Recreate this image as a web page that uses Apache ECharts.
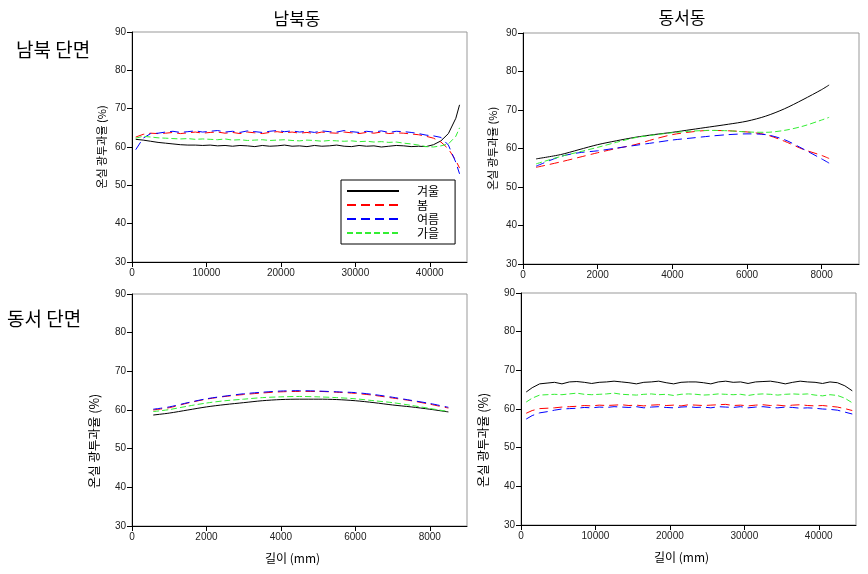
<!DOCTYPE html>
<html><head><meta charset="utf-8">
<script src="https://cdn.jsdelivr.net/npm/echarts@6/dist/echarts.min.js"></script>
<style>html,body{margin:0;padding:0;background:#fff}#c{width:868px;height:574px}</style>
</head><body><div id="c"></div>
<script>
// ---- Data ----
const seasons = ['겨울', '봄', '여름', '가을'];
const yTicks = [30, 40, 50, 60, 70, 80, 90];

// Panel A: 남북 단면 / 남북동
const A_x = [500,1500,2500,3500,4500,5500,6500,7500,8500,9500,10500,11500,12500,13500,14500,15500,16500,17500,18500,19500,20500,21500,22500,23500,24500,25500,26500,27500,28500,29500,30500,31500,32500,33500,34500,35500,36500,37500,38500,39500,40500,41500,42500,43500,44000];
const A_winter = [62.0,61.8,61.5,61.2,61.0,60.8,60.6,60.5,60.5,60.4,60.5,60.3,60.4,60.2,60.4,60.3,60.1,60.4,60.2,60.3,60.5,60.2,60.3,60.1,60.4,60.2,60.3,60.5,60.2,60.1,60.4,60.2,60.3,60.0,60.2,60.4,60.3,60.1,60.2,60.1,60.6,61.6,63.5,67.5,71.0];
const A_spring = [62.6,63.3,63.6,63.5,63.6,63.8,63.5,63.7,63.9,63.6,63.8,63.9,63.6,63.8,63.5,63.9,63.7,63.5,63.8,64.0,63.7,63.9,63.6,63.8,63.5,63.9,63.7,63.6,63.9,63.7,63.5,63.8,63.6,63.9,63.5,63.7,63.6,63.4,63.2,62.8,62.3,61.3,59.5,56.5,54.5];
const A_summer = [59.3,62.3,63.5,63.6,63.9,64.1,63.8,64.0,64.2,63.9,64.1,64.3,63.9,64.1,63.8,64.2,64.0,63.8,64.1,64.3,64.0,64.2,63.9,64.1,63.8,64.2,64.0,63.9,64.3,64.0,63.8,64.1,63.9,64.2,63.8,64.1,64.0,63.8,63.5,63.1,62.9,62.5,60.5,56.0,53.0];
const A_autumn = [62.3,62.8,62.6,62.4,62.3,62.2,62.1,62.2,62.0,62.1,62.0,61.9,62.1,61.8,61.9,61.7,61.8,61.9,61.7,61.8,61.9,61.7,61.6,61.8,61.7,61.5,61.7,61.6,61.5,61.6,61.4,61.5,61.3,61.4,61.2,61.3,61.0,60.8,60.5,60.1,60.0,60.3,60.8,62.8,65.0];

// Panel B: 남북 단면 / 동서동
const B_x = [350,1000,1500,2000,2500,3000,3500,4000,4500,5000,5500,6000,6500,7000,7500,8000,8200];
const B_winter = [57.3,58.4,59.7,61.0,62.0,62.9,63.6,64.2,64.9,65.6,66.3,67.1,68.4,70.3,72.7,75.3,76.5];
const B_spring = [55.1,56.5,57.7,58.9,60.0,61.0,62.4,63.6,64.3,64.7,64.6,64.3,63.6,61.9,59.8,58.2,57.4];
const B_summer = [55.4,57.9,58.9,59.4,60.1,60.8,61.5,62.2,62.7,63.2,63.6,63.8,63.6,62.3,59.9,57.3,56.2];
const B_autumn = [56.0,57.9,59.1,60.3,61.6,62.8,63.5,64.1,64.5,64.7,64.6,64.3,64.2,64.7,65.8,67.4,68.1];

// Panel C: 동서 단면 / 남북동
const C_x = [570,1000,1500,2000,2500,3000,3500,4000,4500,5000,5500,6000,6500,7000,7500,8000,8500];
const C_winter = [58.7,59.2,60.0,60.8,61.4,61.9,62.4,62.7,62.8,62.8,62.7,62.4,61.9,61.3,60.8,60.2,59.5];
const C_spring = [60.0,60.6,61.8,62.8,63.5,64.0,64.4,64.7,64.8,64.8,64.6,64.3,63.8,63.1,62.4,61.5,60.5];
const C_summer = [60.2,60.8,61.9,62.9,63.6,64.2,64.6,64.9,65.0,64.9,64.7,64.5,64.0,63.3,62.5,61.7,60.7];
const C_autumn = [59.6,60.1,61.0,61.8,62.4,62.8,63.2,63.4,63.5,63.4,63.2,62.9,62.4,61.9,61.2,60.4,59.6];

// Panel D: 동서 단면 / 동서동
const D_x = [700,1500,2500,3500,4500,5500,6500,7500,8500,9500,10500,11500,12500,13500,14500,15500,16500,17500,18500,19500,20500,21500,22500,23500,24500,25500,26500,27500,28500,29500,30500,31500,32500,33500,34500,35500,36500,37500,38500,39500,40500,41500,42500,43500,44500];
const D_winter = [64.4,65.5,66.5,66.7,66.9,66.5,67.0,67.1,66.9,66.6,66.9,67.0,67.2,67.0,66.8,66.5,66.9,67.0,67.2,66.8,66.5,66.9,67.0,67.0,66.8,66.5,67.0,67.2,66.9,67.0,66.6,67.0,67.1,67.2,66.9,66.5,66.9,67.2,67.0,66.9,66.6,67.0,66.8,66.0,64.7];
const D_spring = [58.9,59.6,60.1,60.2,60.3,60.5,60.6,60.7,60.9,60.8,61.0,60.9,61.0,61.1,60.9,61.0,60.8,61.0,61.1,60.9,61.0,60.8,61.1,61.0,60.9,61.0,61.1,61.2,60.9,61.0,60.8,61.0,61.1,60.9,61.0,60.8,61.0,61.1,60.9,60.8,60.9,60.7,60.5,60.1,59.6];
const D_summer = [57.4,58.3,59.0,59.3,59.7,60.0,60.1,60.2,60.4,60.3,60.5,60.4,60.6,60.5,60.4,60.6,60.3,60.5,60.6,60.4,60.3,60.5,60.6,60.4,60.5,60.3,60.6,60.5,60.4,60.6,60.3,60.5,60.6,60.4,60.3,60.5,60.4,60.2,60.3,60.2,60.0,59.9,59.7,59.2,58.7];
const D_autumn = [61.8,62.8,63.6,63.7,63.8,63.7,63.9,64.1,63.8,63.7,63.8,63.9,64.1,63.8,63.7,63.6,63.8,63.9,63.7,63.8,63.5,63.8,63.9,63.8,63.6,63.7,63.9,63.8,63.7,63.8,63.5,63.8,63.9,63.8,63.6,63.8,63.9,63.8,63.9,63.6,63.4,63.7,63.5,62.8,61.6];

const colTitles = ['남북동', '동서동'];
const rowTitles = ['남북 단면', '동서 단면'];
const yName = '온실 광투과율 (%)';
const xName = '길이 (mm)';

// ---- Chart ----
const NUM = 'Liberation Sans, Arial, sans-serif';
const KR = 'Noto Sans CJK KR, sans-serif';
const styles = [
  {color: '#000000', type: 'solid'},
  {color: '#ff0000', type: [9, 5]},
  {color: '#0000ff', type: [9, 5]},
  {color: '#33ee33', type: [6, 3]}
];
const panels = [
  {x: A_x, ys: [A_winter, A_spring, A_summer, A_autumn], max: 45000, interval: 10000, smooth: false},
  {x: B_x, ys: [B_winter, B_spring, B_summer, B_autumn], max: 9000, interval: 2000, smooth: true},
  {x: C_x, ys: [C_winter, C_spring, C_summer, C_autumn], max: 9000, interval: 2000, smooth: true},
  {x: D_x, ys: [D_winter, D_spring, D_summer, D_autumn], max: 45000, interval: 10000, smooth: false}
];
const grids = [
  {left: 132, top: 32, width: 335, height: 230},
  {left: 523, top: 33, width: 336, height: 231},
  {left: 132, top: 294, width: 335, height: 232},
  {left: 521, top: 293, width: 335, height: 232}
];
const option = {
  backgroundColor: '#fff',
  animation: false,
  title: [
    {text: colTitles[0], left: 292, top: 5, textAlign: 'center', textStyle: {fontFamily: KR, fontSize: 17, fontWeight: 'normal', color: '#000'}},
    {text: colTitles[1], left: 677, top: 4, textAlign: 'center', textStyle: {fontFamily: KR, fontSize: 17, fontWeight: 'normal', color: '#000'}},
    {text: rowTitles[0], left: 11, top: 35, textStyle: {fontFamily: KR, fontSize: 19, fontWeight: 'normal', color: '#000'}},
    {text: rowTitles[1], left: 2, top: 304, textStyle: {fontFamily: KR, fontSize: 19, fontWeight: 'normal', color: '#000'}}
  ],
  legend: {
    data: seasons,
    left: 341, top: 180,
    orient: 'vertical',
    borderColor: '#000', borderWidth: 1,
    padding: [5, 16, 5, 5],
    itemWidth: 52, itemHeight: 10, itemGap: 2,
    itemStyle: {opacity: 0},
    textStyle: {fontFamily: KR, fontSize: 12, color: '#000', padding: [0, 0, 0, 13]}
  },
  grid: grids.map(g => Object.assign({show: true, borderColor: '#999', borderWidth: 1, containLabel: false}, g)),
  xAxis: panels.map((p, i) => ({
    type: 'value', gridIndex: i, min: 0, max: p.max, interval: p.interval,
    name: i >= 2 ? xName : '', nameLocation: 'middle', nameGap: 26,
    nameTextStyle: {fontFamily: KR, fontSize: 12, color: '#000', padding: [0, 14, 0, 0]},
    axisLine: {show: true, onZero: false, lineStyle: {color: '#000', width: 1}},
    axisTick: {show: true, inside: false, length: 5, lineStyle: {color: '#000'}},
    axisLabel: {fontFamily: NUM, fontSize: 10, color: '#222', margin: 6, showMaxLabel: false,
      formatter: v => String(v)},
    splitLine: {show: false}
  })),
  yAxis: panels.map((p, i) => ({
    type: 'value', gridIndex: i, min: 30, max: 90, interval: 10,
    name: yName, nameLocation: 'middle', nameGap: i >= 2 ? 31 : 25, nameRotate: 90,
    nameTextStyle: i >= 2
      ? {fontFamily: KR, fontSize: 12.5, color: '#000', padding: [0, 62, 0, 0]}
      : {fontFamily: KR, fontSize: 11, color: '#000'},
    axisLine: {show: true, onZero: false, lineStyle: {color: '#000', width: 1}},
    axisTick: {show: true, inside: false, length: 5, lineStyle: {color: '#000'}},
    axisLabel: {fontFamily: NUM, fontSize: 10, color: '#222', margin: 6,
      formatter: v => yTicks.indexOf(v) >= 0 ? String(v) : ''},
    splitLine: {show: false}
  })),
  series: []
};
panels.forEach((p, i) => {
  p.ys.forEach((ys, k) => {
    option.series.push({
      type: 'line', name: seasons[k], xAxisIndex: i, yAxisIndex: i,
      data: p.x.map((x, j) => [x, ys[j]]),
      showSymbol: false, symbol: 'none', smooth: p.smooth ? 0.3 : false,
      lineStyle: {color: styles[k].color, type: styles[k].type, width: 1},
      itemStyle: {color: styles[k].color}
    });
  });
});
const chart = echarts.init(document.getElementById('c'), null, {renderer: 'canvas'});
chart.setOption(option);
</script></body></html>
